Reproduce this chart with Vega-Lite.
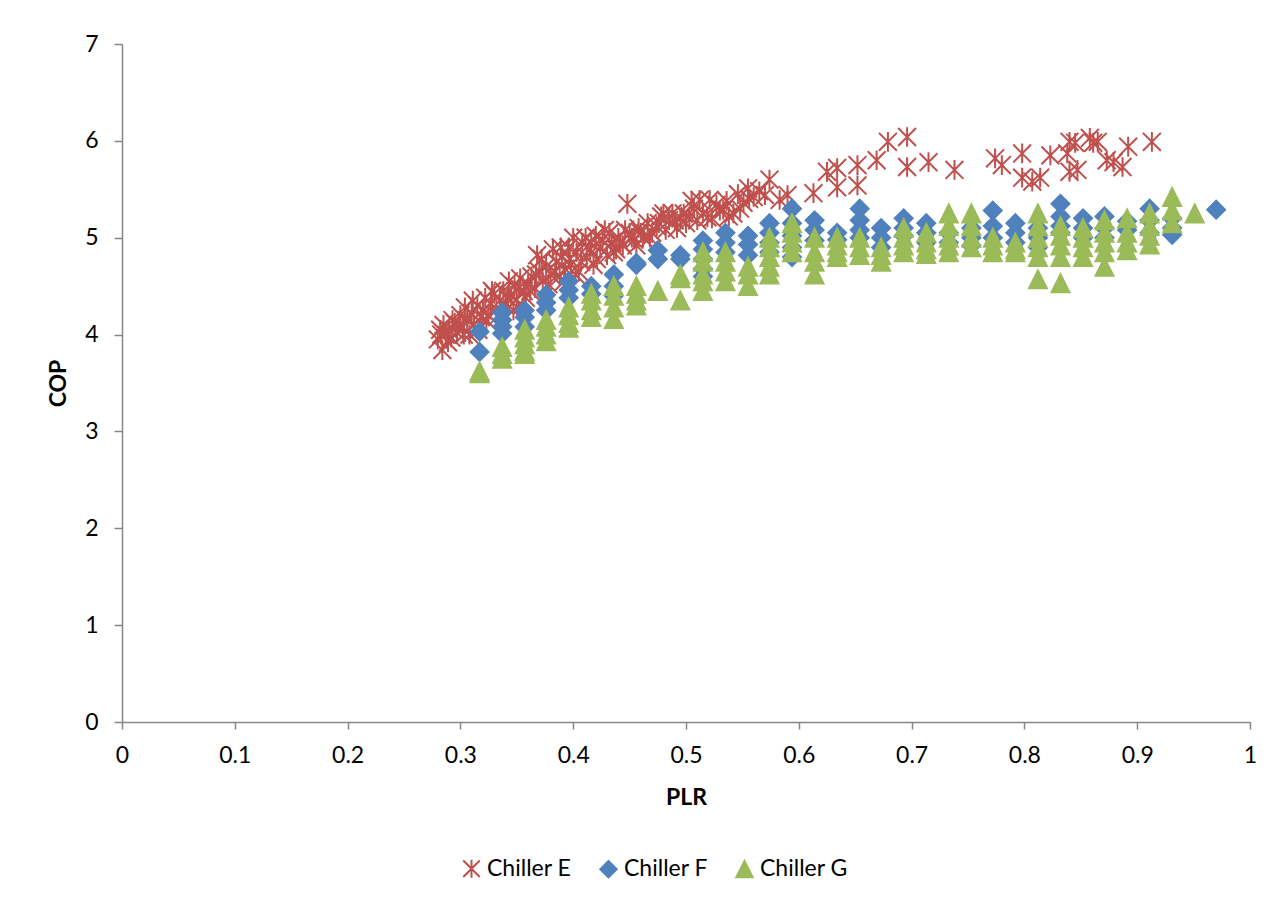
{
  "$schema": "https://vega.github.io/schema/vega-lite/v6.json",
  "autosize": {"type": "none"},
  "padding": {"left": 122, "top": 44, "right": 29, "bottom": 182},
  "width": 1128,
  "height": 678,
  "background": "white",
  "config": {
    "view": {"stroke": null},
    "font": "Lato",
    "axis": {
      "domainColor": "#868686", "tickColor": "#868686", "domainWidth": 1.5, "tickWidth": 1.5,
      "labelColor": "#000000", "labelFont": "Lato", "labelFontSize": 23,
      "titleColor": "#000000", "titleFont": "Lato", "titleFontSize": 23, "titleFontWeight": "bold",
      "grid": false
    }
  },
  "data": {"values": [
    {"series":"Chiller E","PLR":0.280,"COP":3.95},{"series":"Chiller E","PLR":0.282,"COP":4.05},{"series":"Chiller E","PLR":0.284,"COP":3.84},{"series":"Chiller E","PLR":0.285,"COP":4.10},{"series":"Chiller E","PLR":0.287,"COP":4.00},{"series":"Chiller E","PLR":0.290,"COP":4.05},{"series":"Chiller E","PLR":0.292,"COP":3.97},{"series":"Chiller E","PLR":0.295,"COP":4.12},{"series":"Chiller E","PLR":0.297,"COP":4.02},{"series":"Chiller E","PLR":0.300,"COP":4.20},{"series":"Chiller E","PLR":0.302,"COP":4.08},{"series":"Chiller E","PLR":0.304,"COP":4.28},{"series":"Chiller E","PLR":0.306,"COP":4.15},{"series":"Chiller E","PLR":0.308,"COP":4.00},{"series":"Chiller E","PLR":0.310,"COP":4.22},{"series":"Chiller E","PLR":0.312,"COP":4.10},{"series":"Chiller E","PLR":0.315,"COP":4.30},{"series":"Chiller E","PLR":0.318,"COP":4.18},{"series":"Chiller E","PLR":0.320,"COP":4.25},{"series":"Chiller E","PLR":0.322,"COP":4.38},{"series":"Chiller E","PLR":0.325,"COP":4.20},{"series":"Chiller E","PLR":0.327,"COP":4.32},{"series":"Chiller E","PLR":0.330,"COP":4.42},{"series":"Chiller E","PLR":0.332,"COP":4.26},{"series":"Chiller E","PLR":0.335,"COP":4.35},{"series":"Chiller E","PLR":0.338,"COP":4.45},{"series":"Chiller E","PLR":0.340,"COP":4.30},{"series":"Chiller E","PLR":0.343,"COP":4.55},{"series":"Chiller E","PLR":0.345,"COP":4.40},{"series":"Chiller E","PLR":0.348,"COP":4.50},{"series":"Chiller E","PLR":0.350,"COP":4.36},{"series":"Chiller E","PLR":0.353,"COP":4.58},{"series":"Chiller E","PLR":0.356,"COP":4.45},{"series":"Chiller E","PLR":0.360,"COP":4.52},{"series":"Chiller E","PLR":0.363,"COP":4.60},{"series":"Chiller E","PLR":0.366,"COP":4.48},{"series":"Chiller E","PLR":0.368,"COP":4.82},{"series":"Chiller E","PLR":0.370,"COP":4.65},{"series":"Chiller E","PLR":0.373,"COP":4.55},{"series":"Chiller E","PLR":0.376,"COP":4.70},{"series":"Chiller E","PLR":0.380,"COP":4.62},{"series":"Chiller E","PLR":0.382,"COP":4.88},{"series":"Chiller E","PLR":0.385,"COP":4.75},{"series":"Chiller E","PLR":0.388,"COP":4.60},{"series":"Chiller E","PLR":0.390,"COP":4.80},{"series":"Chiller E","PLR":0.393,"COP":4.68},{"series":"Chiller E","PLR":0.396,"COP":4.90},{"series":"Chiller E","PLR":0.398,"COP":4.72},{"series":"Chiller E","PLR":0.400,"COP":5.00},{"series":"Chiller E","PLR":0.403,"COP":4.85},{"series":"Chiller E","PLR":0.405,"COP":4.65},{"series":"Chiller E","PLR":0.408,"COP":4.95},{"series":"Chiller E","PLR":0.412,"COP":4.80},{"series":"Chiller E","PLR":0.415,"COP":4.88},{"series":"Chiller E","PLR":0.418,"COP":4.72},{"series":"Chiller E","PLR":0.420,"COP":5.02},{"series":"Chiller E","PLR":0.424,"COP":4.90},{"series":"Chiller E","PLR":0.428,"COP":5.08},{"series":"Chiller E","PLR":0.430,"COP":4.82},{"series":"Chiller E","PLR":0.434,"COP":4.95},{"series":"Chiller E","PLR":0.438,"COP":4.88},{"series":"Chiller E","PLR":0.440,"COP":5.00},{"series":"Chiller E","PLR":0.444,"COP":4.92},{"series":"Chiller E","PLR":0.448,"COP":5.35},{"series":"Chiller E","PLR":0.450,"COP":5.05},{"series":"Chiller E","PLR":0.454,"COP":4.98},{"series":"Chiller E","PLR":0.458,"COP":5.10},{"series":"Chiller E","PLR":0.462,"COP":5.00},{"series":"Chiller E","PLR":0.466,"COP":5.15},{"series":"Chiller E","PLR":0.470,"COP":5.05},{"series":"Chiller E","PLR":0.474,"COP":5.12},{"series":"Chiller E","PLR":0.478,"COP":5.22},{"series":"Chiller E","PLR":0.482,"COP":5.08},{"series":"Chiller E","PLR":0.485,"COP":5.18},{"series":"Chiller E","PLR":0.488,"COP":5.25},{"series":"Chiller E","PLR":0.492,"COP":5.10},{"series":"Chiller E","PLR":0.495,"COP":5.20},{"series":"Chiller E","PLR":0.500,"COP":5.15},{"series":"Chiller E","PLR":0.505,"COP":5.38},{"series":"Chiller E","PLR":0.510,"COP":5.18},{"series":"Chiller E","PLR":0.512,"COP":5.39},{"series":"Chiller E","PLR":0.515,"COP":5.25},{"series":"Chiller E","PLR":0.519,"COP":5.21},{"series":"Chiller E","PLR":0.521,"COP":5.39},{"series":"Chiller E","PLR":0.527,"COP":5.34},{"series":"Chiller E","PLR":0.530,"COP":5.28},{"series":"Chiller E","PLR":0.533,"COP":5.29},{"series":"Chiller E","PLR":0.538,"COP":5.22},{"series":"Chiller E","PLR":0.542,"COP":5.25},{"series":"Chiller E","PLR":0.546,"COP":5.45},{"series":"Chiller E","PLR":0.551,"COP":5.36},{"series":"Chiller E","PLR":0.555,"COP":5.51},{"series":"Chiller E","PLR":0.560,"COP":5.42},{"series":"Chiller E","PLR":0.565,"COP":5.48},{"series":"Chiller E","PLR":0.570,"COP":5.44},{"series":"Chiller E","PLR":0.574,"COP":5.60},{"series":"Chiller E","PLR":0.583,"COP":5.39},{"series":"Chiller E","PLR":0.590,"COP":5.44},{"series":"Chiller E","PLR":0.613,"COP":5.46},{"series":"Chiller E","PLR":0.625,"COP":5.68},{"series":"Chiller E","PLR":0.634,"COP":5.72},{"series":"Chiller E","PLR":0.634,"COP":5.52},{"series":"Chiller E","PLR":0.652,"COP":5.75},{"series":"Chiller E","PLR":0.652,"COP":5.54},{"series":"Chiller E","PLR":0.669,"COP":5.80},{"series":"Chiller E","PLR":0.679,"COP":5.99},{"series":"Chiller E","PLR":0.696,"COP":6.04},{"series":"Chiller E","PLR":0.696,"COP":5.73},{"series":"Chiller E","PLR":0.715,"COP":5.78},{"series":"Chiller E","PLR":0.738,"COP":5.70},{"series":"Chiller E","PLR":0.774,"COP":5.82},{"series":"Chiller E","PLR":0.780,"COP":5.75},{"series":"Chiller E","PLR":0.798,"COP":5.87},{"series":"Chiller E","PLR":0.798,"COP":5.62},{"series":"Chiller E","PLR":0.807,"COP":5.58},{"series":"Chiller E","PLR":0.814,"COP":5.62},{"series":"Chiller E","PLR":0.823,"COP":5.85},{"series":"Chiller E","PLR":0.838,"COP":5.87},{"series":"Chiller E","PLR":0.840,"COP":5.99},{"series":"Chiller E","PLR":0.845,"COP":5.98},{"series":"Chiller E","PLR":0.840,"COP":5.68},{"series":"Chiller E","PLR":0.847,"COP":5.70},{"series":"Chiller E","PLR":0.858,"COP":6.03},{"series":"Chiller E","PLR":0.861,"COP":5.98},{"series":"Chiller E","PLR":0.865,"COP":5.99},{"series":"Chiller E","PLR":0.873,"COP":5.80},{"series":"Chiller E","PLR":0.879,"COP":5.78},{"series":"Chiller E","PLR":0.887,"COP":5.73},{"series":"Chiller E","PLR":0.892,"COP":5.94},{"series":"Chiller E","PLR":0.913,"COP":5.99},
    {"series":"Chiller E","PLR":0.283,"COP":4.00},{"series":"Chiller E","PLR":0.289,"COP":3.92},{"series":"Chiller E","PLR":0.293,"COP":4.15},{"series":"Chiller E","PLR":0.299,"COP":4.10},{"series":"Chiller E","PLR":0.303,"COP":4.00},{"series":"Chiller E","PLR":0.311,"COP":4.35},{"series":"Chiller E","PLR":0.316,"COP":4.05},{"series":"Chiller E","PLR":0.323,"COP":4.15},{"series":"Chiller E","PLR":0.328,"COP":4.45},{"series":"Chiller E","PLR":0.334,"COP":4.20},{"series":"Chiller E","PLR":0.342,"COP":4.38},{"series":"Chiller E","PLR":0.347,"COP":4.25},{"series":"Chiller E","PLR":0.352,"COP":4.48},{"series":"Chiller E","PLR":0.358,"COP":4.38},{"series":"Chiller E","PLR":0.362,"COP":4.45},{"series":"Chiller E","PLR":0.367,"COP":4.62},{"series":"Chiller E","PLR":0.372,"COP":4.78},{"series":"Chiller E","PLR":0.378,"COP":4.52},{"series":"Chiller E","PLR":0.384,"COP":4.65},{"series":"Chiller E","PLR":0.389,"COP":4.90},{"series":"Chiller E","PLR":0.392,"COP":4.55},{"series":"Chiller E","PLR":0.397,"COP":4.78},{"series":"Chiller E","PLR":0.402,"COP":4.62},{"series":"Chiller E","PLR":0.407,"COP":4.75},{"series":"Chiller E","PLR":0.411,"COP":5.00},{"series":"Chiller E","PLR":0.416,"COP":4.95},{"series":"Chiller E","PLR":0.421,"COP":4.78},{"series":"Chiller E","PLR":0.426,"COP":4.98},{"series":"Chiller E","PLR":0.432,"COP":5.05},{"series":"Chiller E","PLR":0.436,"COP":4.85},{"series":"Chiller E","PLR":0.442,"COP":4.95},{"series":"Chiller E","PLR":0.446,"COP":5.08},{"series":"Chiller E","PLR":0.452,"COP":5.00},{"series":"Chiller E","PLR":0.456,"COP":4.92},{"series":"Chiller E","PLR":0.460,"COP":5.05},{"series":"Chiller E","PLR":0.468,"COP":5.00},{"series":"Chiller E","PLR":0.476,"COP":5.15},{"series":"Chiller E","PLR":0.480,"COP":5.25},{"series":"Chiller E","PLR":0.490,"COP":5.18},{"series":"Chiller E","PLR":0.498,"COP":5.25},{"series":"Chiller E","PLR":0.503,"COP":5.22},{"series":"Chiller E","PLR":0.507,"COP":5.30},{"series":"Chiller E","PLR":0.523,"COP":5.20},{"series":"Chiller E","PLR":0.536,"COP":5.38},{"series":"Chiller E","PLR":0.548,"COP":5.30},{"series":"Chiller E","PLR":0.556,"COP":5.40},

    {"series":"Chiller F","PLR":0.317,"COP":4.03},{"series":"Chiller F","PLR":0.317,"COP":3.82},
    {"series":"Chiller F","PLR":0.337,"COP":4.23},{"series":"Chiller F","PLR":0.337,"COP":4.15},{"series":"Chiller F","PLR":0.337,"COP":4.08},{"series":"Chiller F","PLR":0.337,"COP":4.01},
    {"series":"Chiller F","PLR":0.357,"COP":4.25},{"series":"Chiller F","PLR":0.357,"COP":4.18},{"series":"Chiller F","PLR":0.357,"COP":4.08},
    {"series":"Chiller F","PLR":0.376,"COP":4.41},{"series":"Chiller F","PLR":0.376,"COP":4.33},{"series":"Chiller F","PLR":0.376,"COP":4.25},
    {"series":"Chiller F","PLR":0.396,"COP":4.55},{"series":"Chiller F","PLR":0.396,"COP":4.46},{"series":"Chiller F","PLR":0.396,"COP":4.38},
    {"series":"Chiller F","PLR":0.416,"COP":4.50},{"series":"Chiller F","PLR":0.416,"COP":4.42},
    {"series":"Chiller F","PLR":0.436,"COP":4.62},{"series":"Chiller F","PLR":0.436,"COP":4.50},{"series":"Chiller F","PLR":0.436,"COP":4.40},
    {"series":"Chiller F","PLR":0.456,"COP":4.74},{"series":"Chiller F","PLR":0.456,"COP":4.72},
    {"series":"Chiller F","PLR":0.475,"COP":4.87},{"series":"Chiller F","PLR":0.475,"COP":4.78},
    {"series":"Chiller F","PLR":0.495,"COP":4.82},{"series":"Chiller F","PLR":0.495,"COP":4.78},
    {"series":"Chiller F","PLR":0.515,"COP":4.97},{"series":"Chiller F","PLR":0.515,"COP":4.88},{"series":"Chiller F","PLR":0.515,"COP":4.78},{"series":"Chiller F","PLR":0.515,"COP":4.68},{"series":"Chiller F","PLR":0.515,"COP":4.60},
    {"series":"Chiller F","PLR":0.535,"COP":5.05},{"series":"Chiller F","PLR":0.535,"COP":4.95},{"series":"Chiller F","PLR":0.535,"COP":4.85},
    {"series":"Chiller F","PLR":0.555,"COP":5.02},{"series":"Chiller F","PLR":0.555,"COP":4.93},{"series":"Chiller F","PLR":0.555,"COP":4.82},
    {"series":"Chiller F","PLR":0.574,"COP":5.15},{"series":"Chiller F","PLR":0.574,"COP":5.05},{"series":"Chiller F","PLR":0.574,"COP":4.95},{"series":"Chiller F","PLR":0.574,"COP":4.85},
    {"series":"Chiller F","PLR":0.594,"COP":5.30},{"series":"Chiller F","PLR":0.594,"COP":5.15},{"series":"Chiller F","PLR":0.594,"COP":5.02},{"series":"Chiller F","PLR":0.594,"COP":4.90},{"series":"Chiller F","PLR":0.594,"COP":4.80},
    {"series":"Chiller F","PLR":0.614,"COP":5.18},{"series":"Chiller F","PLR":0.614,"COP":5.08},{"series":"Chiller F","PLR":0.614,"COP":4.97},
    {"series":"Chiller F","PLR":0.634,"COP":5.05},{"series":"Chiller F","PLR":0.634,"COP":4.98},
    {"series":"Chiller F","PLR":0.654,"COP":5.30},{"series":"Chiller F","PLR":0.654,"COP":5.18},{"series":"Chiller F","PLR":0.654,"COP":5.08},{"series":"Chiller F","PLR":0.654,"COP":5.00},
    {"series":"Chiller F","PLR":0.673,"COP":5.10},{"series":"Chiller F","PLR":0.673,"COP":5.00},{"series":"Chiller F","PLR":0.673,"COP":4.90},
    {"series":"Chiller F","PLR":0.693,"COP":5.20},{"series":"Chiller F","PLR":0.693,"COP":5.10},{"series":"Chiller F","PLR":0.693,"COP":5.02},
    {"series":"Chiller F","PLR":0.713,"COP":5.15},{"series":"Chiller F","PLR":0.713,"COP":5.05},{"series":"Chiller F","PLR":0.713,"COP":4.95},
    {"series":"Chiller F","PLR":0.733,"COP":5.05},{"series":"Chiller F","PLR":0.733,"COP":4.95},
    {"series":"Chiller F","PLR":0.753,"COP":5.10},{"series":"Chiller F","PLR":0.753,"COP":5.00},{"series":"Chiller F","PLR":0.753,"COP":4.92},
    {"series":"Chiller F","PLR":0.772,"COP":5.28},{"series":"Chiller F","PLR":0.772,"COP":5.12},{"series":"Chiller F","PLR":0.772,"COP":5.00},
    {"series":"Chiller F","PLR":0.792,"COP":5.15},{"series":"Chiller F","PLR":0.792,"COP":5.05},{"series":"Chiller F","PLR":0.792,"COP":4.95},
    {"series":"Chiller F","PLR":0.812,"COP":5.10},{"series":"Chiller F","PLR":0.812,"COP":5.00},{"series":"Chiller F","PLR":0.812,"COP":4.90},
    {"series":"Chiller F","PLR":0.832,"COP":5.35},{"series":"Chiller F","PLR":0.832,"COP":5.22},{"series":"Chiller F","PLR":0.832,"COP":5.12},{"series":"Chiller F","PLR":0.832,"COP":5.05},
    {"series":"Chiller F","PLR":0.852,"COP":5.20},{"series":"Chiller F","PLR":0.852,"COP":5.10},{"series":"Chiller F","PLR":0.852,"COP":5.00},
    {"series":"Chiller F","PLR":0.871,"COP":5.22},{"series":"Chiller F","PLR":0.871,"COP":5.10},{"series":"Chiller F","PLR":0.871,"COP":5.00},
    {"series":"Chiller F","PLR":0.891,"COP":5.17},{"series":"Chiller F","PLR":0.891,"COP":5.08},
    {"series":"Chiller F","PLR":0.911,"COP":5.30},{"series":"Chiller F","PLR":0.911,"COP":5.18},{"series":"Chiller F","PLR":0.911,"COP":5.05},
    {"series":"Chiller F","PLR":0.931,"COP":5.20},{"series":"Chiller F","PLR":0.931,"COP":5.10},{"series":"Chiller F","PLR":0.931,"COP":5.03},
    {"series":"Chiller F","PLR":0.970,"COP":5.29},

    {"series":"Chiller G","PLR":0.317,"COP":3.62},{"series":"Chiller G","PLR":0.317,"COP":3.60},
    {"series":"Chiller G","PLR":0.337,"COP":3.87},{"series":"Chiller G","PLR":0.337,"COP":3.80},{"series":"Chiller G","PLR":0.337,"COP":3.75},
    {"series":"Chiller G","PLR":0.357,"COP":4.05},{"series":"Chiller G","PLR":0.357,"COP":3.97},{"series":"Chiller G","PLR":0.357,"COP":3.90},{"series":"Chiller G","PLR":0.357,"COP":3.83},{"series":"Chiller G","PLR":0.357,"COP":3.80},
    {"series":"Chiller G","PLR":0.376,"COP":4.15},{"series":"Chiller G","PLR":0.376,"COP":4.08},{"series":"Chiller G","PLR":0.376,"COP":4.00},{"series":"Chiller G","PLR":0.376,"COP":3.93},
    {"series":"Chiller G","PLR":0.396,"COP":4.28},{"series":"Chiller G","PLR":0.396,"COP":4.20},{"series":"Chiller G","PLR":0.396,"COP":4.12},{"series":"Chiller G","PLR":0.396,"COP":4.07},
    {"series":"Chiller G","PLR":0.416,"COP":4.42},{"series":"Chiller G","PLR":0.416,"COP":4.35},{"series":"Chiller G","PLR":0.416,"COP":4.25},{"series":"Chiller G","PLR":0.416,"COP":4.18},
    {"series":"Chiller G","PLR":0.436,"COP":4.50},{"series":"Chiller G","PLR":0.436,"COP":4.40},{"series":"Chiller G","PLR":0.436,"COP":4.28},{"series":"Chiller G","PLR":0.436,"COP":4.16},
    {"series":"Chiller G","PLR":0.456,"COP":4.50},{"series":"Chiller G","PLR":0.456,"COP":4.42},{"series":"Chiller G","PLR":0.456,"COP":4.35},{"series":"Chiller G","PLR":0.456,"COP":4.30},
    {"series":"Chiller G","PLR":0.475,"COP":4.45},
    {"series":"Chiller G","PLR":0.495,"COP":4.62},{"series":"Chiller G","PLR":0.495,"COP":4.58},{"series":"Chiller G","PLR":0.495,"COP":4.35},
    {"series":"Chiller G","PLR":0.515,"COP":4.85},{"series":"Chiller G","PLR":0.515,"COP":4.75},{"series":"Chiller G","PLR":0.515,"COP":4.62},{"series":"Chiller G","PLR":0.515,"COP":4.55},{"series":"Chiller G","PLR":0.515,"COP":4.45},
    {"series":"Chiller G","PLR":0.535,"COP":4.85},{"series":"Chiller G","PLR":0.535,"COP":4.75},{"series":"Chiller G","PLR":0.535,"COP":4.65},{"series":"Chiller G","PLR":0.535,"COP":4.55},
    {"series":"Chiller G","PLR":0.555,"COP":4.70},{"series":"Chiller G","PLR":0.555,"COP":4.62},{"series":"Chiller G","PLR":0.555,"COP":4.50},
    {"series":"Chiller G","PLR":0.574,"COP":5.00},{"series":"Chiller G","PLR":0.574,"COP":4.90},{"series":"Chiller G","PLR":0.574,"COP":4.80},{"series":"Chiller G","PLR":0.574,"COP":4.70},{"series":"Chiller G","PLR":0.574,"COP":4.62},
    {"series":"Chiller G","PLR":0.594,"COP":5.15},{"series":"Chiller G","PLR":0.594,"COP":5.05},{"series":"Chiller G","PLR":0.594,"COP":4.95},{"series":"Chiller G","PLR":0.594,"COP":4.85},
    {"series":"Chiller G","PLR":0.614,"COP":5.00},{"series":"Chiller G","PLR":0.614,"COP":4.85},{"series":"Chiller G","PLR":0.614,"COP":4.75},{"series":"Chiller G","PLR":0.614,"COP":4.62},
    {"series":"Chiller G","PLR":0.634,"COP":5.00},{"series":"Chiller G","PLR":0.634,"COP":4.92},{"series":"Chiller G","PLR":0.634,"COP":4.85},{"series":"Chiller G","PLR":0.634,"COP":4.80},
    {"series":"Chiller G","PLR":0.654,"COP":5.00},{"series":"Chiller G","PLR":0.654,"COP":4.90},{"series":"Chiller G","PLR":0.654,"COP":4.82},
    {"series":"Chiller G","PLR":0.673,"COP":4.90},{"series":"Chiller G","PLR":0.673,"COP":4.82},{"series":"Chiller G","PLR":0.673,"COP":4.75},
    {"series":"Chiller G","PLR":0.693,"COP":5.10},{"series":"Chiller G","PLR":0.693,"COP":5.00},{"series":"Chiller G","PLR":0.693,"COP":4.92},{"series":"Chiller G","PLR":0.693,"COP":4.85},
    {"series":"Chiller G","PLR":0.713,"COP":5.05},{"series":"Chiller G","PLR":0.713,"COP":4.95},{"series":"Chiller G","PLR":0.713,"COP":4.88},{"series":"Chiller G","PLR":0.713,"COP":4.83},
    {"series":"Chiller G","PLR":0.733,"COP":5.25},{"series":"Chiller G","PLR":0.733,"COP":5.12},{"series":"Chiller G","PLR":0.733,"COP":5.00},{"series":"Chiller G","PLR":0.733,"COP":4.92},{"series":"Chiller G","PLR":0.733,"COP":4.85},
    {"series":"Chiller G","PLR":0.753,"COP":5.25},{"series":"Chiller G","PLR":0.753,"COP":5.12},{"series":"Chiller G","PLR":0.753,"COP":5.00},{"series":"Chiller G","PLR":0.753,"COP":4.90},
    {"series":"Chiller G","PLR":0.772,"COP":5.00},{"series":"Chiller G","PLR":0.772,"COP":4.92},{"series":"Chiller G","PLR":0.772,"COP":4.85},
    {"series":"Chiller G","PLR":0.792,"COP":4.95},{"series":"Chiller G","PLR":0.792,"COP":4.88},{"series":"Chiller G","PLR":0.792,"COP":4.85},
    {"series":"Chiller G","PLR":0.812,"COP":5.25},{"series":"Chiller G","PLR":0.812,"COP":5.12},{"series":"Chiller G","PLR":0.812,"COP":5.00},{"series":"Chiller G","PLR":0.812,"COP":4.90},{"series":"Chiller G","PLR":0.812,"COP":4.80},{"series":"Chiller G","PLR":0.812,"COP":4.57},
    {"series":"Chiller G","PLR":0.832,"COP":5.12},{"series":"Chiller G","PLR":0.832,"COP":5.02},{"series":"Chiller G","PLR":0.832,"COP":4.92},{"series":"Chiller G","PLR":0.832,"COP":4.80},{"series":"Chiller G","PLR":0.832,"COP":4.53},
    {"series":"Chiller G","PLR":0.852,"COP":5.10},{"series":"Chiller G","PLR":0.852,"COP":5.00},{"series":"Chiller G","PLR":0.852,"COP":4.90},{"series":"Chiller G","PLR":0.852,"COP":4.80},
    {"series":"Chiller G","PLR":0.871,"COP":5.18},{"series":"Chiller G","PLR":0.871,"COP":5.05},{"series":"Chiller G","PLR":0.871,"COP":4.95},{"series":"Chiller G","PLR":0.871,"COP":4.85},{"series":"Chiller G","PLR":0.871,"COP":4.70},
    {"series":"Chiller G","PLR":0.891,"COP":5.20},{"series":"Chiller G","PLR":0.891,"COP":5.05},{"series":"Chiller G","PLR":0.891,"COP":4.95},{"series":"Chiller G","PLR":0.891,"COP":4.87},
    {"series":"Chiller G","PLR":0.911,"COP":5.25},{"series":"Chiller G","PLR":0.911,"COP":5.12},{"series":"Chiller G","PLR":0.911,"COP":5.02},{"series":"Chiller G","PLR":0.911,"COP":4.93},
    {"series":"Chiller G","PLR":0.931,"COP":5.42},{"series":"Chiller G","PLR":0.931,"COP":5.28},{"series":"Chiller G","PLR":0.931,"COP":5.15},
    {"series":"Chiller G","PLR":0.951,"COP":5.25}
  ]},
  "mark": {"type": "point", "opacity": 1, "strokeWidth": 2, "size": 320, "strokeCap": "butt"},
  "encoding": {
    "x": {
      "field": "PLR", "type": "quantitative",
      "scale": {"domain": [0, 1], "nice": false, "zero": true},
      "axis": {"title": "PLR", "values": [0, 0.1, 0.2, 0.3, 0.4, 0.5, 0.6, 0.7, 0.8, 0.9, 1], "format": "~g",
               "tickSize": 7, "labelPadding": 15, "titlePadding": 19, "labelFlush": false}
    },
    "y": {
      "field": "COP", "type": "quantitative",
      "scale": {"domain": [0, 7], "nice": false},
      "axis": {"title": "COP", "values": [0, 1, 2, 3, 4, 5, 6, 7], "tickSize": 8, "labelPadding": 16, "titlePadding": 14}
    },
    "shape": {
      "field": "series", "type": "nominal",
      "scale": {"domain": ["Chiller E", "Chiller F", "Chiller G"],
                "range": ["M-1,-1L1,1M-1,1L1,-1M0,-1.1L0,1.1", "M0,-1L1,0L0,1L-1,0Z", "M0,-1L1,1L-1,1Z"]},
      "legend": {
        "orient": "none", "direction": "horizontal", "title": null,
        "legendX": 338, "legendY": 813,
        "labelFont": "Lato", "labelFontSize": 23, "labelColor": "#000000",
        "symbolSize": 270, "symbolStrokeWidth": 2, "labelOffset": 4, "columnPadding": 24, "padding": 0
      }
    },
    "stroke": {
      "field": "series", "type": "nominal",
      "scale": {"domain": ["Chiller E", "Chiller F", "Chiller G"], "range": ["#C0504D", "#4F81BD", "#9BBB59"]},
      "legend": {
        "orient": "none", "direction": "horizontal", "title": null,
        "legendX": 338, "legendY": 813,
        "labelFont": "Lato", "labelFontSize": 23, "labelColor": "#000000",
        "symbolSize": 270, "symbolStrokeWidth": 2, "labelOffset": 4, "columnPadding": 24, "padding": 0
      }
    },
    "fill": {
      "field": "series", "type": "nominal",
      "scale": {"domain": ["Chiller E", "Chiller F", "Chiller G"], "range": ["transparent", "#4F81BD", "#9BBB59"]},
      "legend": {
        "orient": "none", "direction": "horizontal", "title": null,
        "legendX": 338, "legendY": 813,
        "labelFont": "Lato", "labelFontSize": 23, "labelColor": "#000000",
        "symbolSize": 270, "symbolStrokeWidth": 2, "labelOffset": 4, "columnPadding": 24, "padding": 0
      }
    }
  }
}
